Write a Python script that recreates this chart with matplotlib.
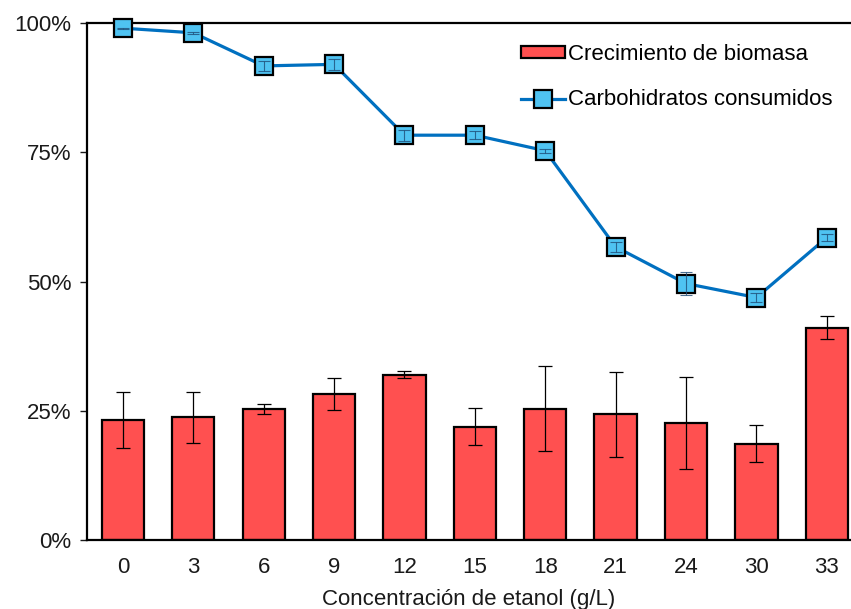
import numpy as np
import matplotlib
matplotlib.use('Agg')
import matplotlib.pyplot as plt
from matplotlib.ticker import PercentFormatter

# Datos
etiquetas = ['0', '3', '6', '9', '12', '15', '18', '21', '24', '30', '33']
biomasa = [23.2, 23.7, 25.3, 28.2, 32.0, 21.9, 25.4, 24.3, 22.6, 18.6, 41.1]
biomasa_err = [5.4, 5.0, 1.0, 3.1, 0.6, 3.6, 8.2, 8.2, 8.9, 3.6, 2.2]
carbohidratos = [99.0, 98.1, 91.7, 92.0, 78.3, 78.3, 75.3, 56.7, 49.6, 46.9, 58.5]
carbohidratos_err = [0.1, 0.2, 1.0, 1.0, 1.1, 0.8, 0.4, 1.0, 2.3, 0.8, 0.6]

plt.rcParams['font.family'] = ['Liberation Sans', 'DejaVu Sans']
fs = 16

fig = plt.figure(figsize=(8.51, 6.09), dpi=100)
ax = fig.add_axes([87/851, 69/609, 763/851, 517/609])

x = np.arange(len(etiquetas))

barras = ax.bar(x, biomasa, width=0.6, color='#FF5050', edgecolor='black', linewidth=1.6,
                label='Crecimiento de biomasa', zorder=2)
ax.errorbar(x, biomasa, yerr=biomasa_err, fmt='none', ecolor='black',
            elinewidth=0.9, capsize=5, capthick=0.9, zorder=3)

linea, = ax.plot(x, carbohidratos, color='#0070C0', linewidth=2.3, marker='s',
                 markersize=13, markerfacecolor='#4FC3F2', markeredgecolor='black',
                 markeredgewidth=1.6, label='Carbohidratos consumidos', zorder=4,
                 clip_on=False)
ax.errorbar(x, carbohidratos, yerr=carbohidratos_err, fmt='none', ecolor='#1F4E79',
            elinewidth=0.8, capsize=4, capthick=0.8, alpha=0.8, zorder=5, clip_on=False)

ax.set_xlim(-0.51, 10.33)
ax.set_ylim(0, 100)
ax.set_yticks([0, 25, 50, 75, 100])
ax.yaxis.set_major_formatter(PercentFormatter(decimals=0))
ax.set_xticks(x)
ax.set_xticklabels(etiquetas)
ax.tick_params(axis='x', length=0, labelsize=fs, pad=12, colors='#1a1a1a')
ax.tick_params(axis='y', direction='out', length=5, width=1, labelsize=fs,
               pad=6, colors='#1a1a1a')
ax.set_xlabel('Concentración de etanol (g/L)', fontsize=fs, color='#1a1a1a', labelpad=8)

ax.spines['right'].set_visible(False)
for s in ['left', 'top', 'bottom']:
    ax.spines[s].set_linewidth(1.6)

ax.legend([barras, linea], ['Crecimiento de biomasa', 'Carbohidratos consumidos'],
          loc='upper left', bbox_to_anchor=(0.542, 0.998), frameon=False,
          fontsize=fs, handlelength=2.0, handleheight=0.45, handletextpad=0.15,
          labelspacing=1.1)

fig.savefig('out.png', dpi=100)
